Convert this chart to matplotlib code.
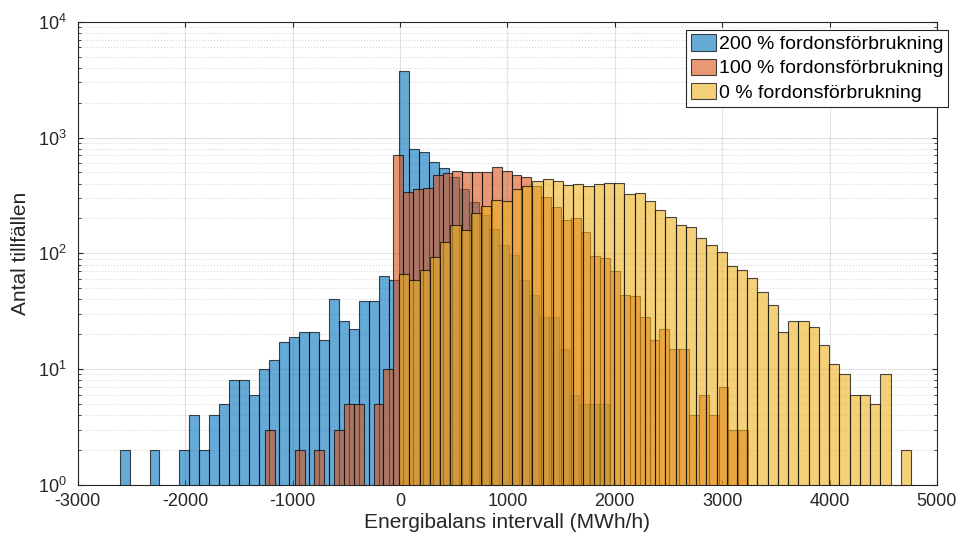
import matplotlib.pyplot as plt
import numpy as np

plt.rcParams['font.family'] = ['Liberation Sans', 'DejaVu Sans']
plt.rcParams['axes.unicode_minus'] = False

# bin layout (MWh/h)
blue_start, blue_width = -2611, 93.0
orange_start, orange_width = -1256, 91.8
yellow_start, yellow_width = -6.5, 95.3

# counts per bin
blue_counts = [2, 0, 0, 2, 0, 0, 2, 4, 2, 4, 5, 8, 8, 6, 10, 12, 17, 19, 21, 21,
               18, 40, 26, 22, 39, 39, 64, 59, 3773, 794, 743, 609, 545, 455, 359,
               275, 215, 162, 118, 97, 59, 44, 28, 28, 15, 6, 5, 5, 5]
orange_counts = [3, 0, 0, 2, 0, 2, 0, 3, 5, 5, 0, 5, 10, 710, 338, 359, 366, 470,
                 493, 509, 502, 502, 502, 556, 509, 478, 458, 378, 306, 251, 194,
                 201, 153, 94, 91, 70, 44, 43, 28, 18, 22, 15, 15, 4, 6, 4, 7, 3, 3]
yellow_counts = [66, 59, 72, 93, 125, 176, 158, 222, 256, 288, 282, 359, 381, 421,
                 438, 423, 391, 398, 383, 398, 404, 404, 326, 335, 282, 238, 206,
                 175, 168, 135, 118, 103, 77, 72, 61, 46, 36, 21, 26, 26, 23, 16,
                 11, 9, 6, 6, 5, 9, 0, 2]

labels = ['200 % fordonsförbrukning', '100 % fordonsförbrukning', '0 % fordonsförbrukning']
colors = [(0, 0.447, 0.741), (0.85, 0.325, 0.098), (0.929, 0.694, 0.125)]

fig = plt.figure(figsize=(9.6, 5.43), dpi=100)
ax = fig.add_axes([0.081, 0.107, 0.895, 0.853])

series = [(blue_start, blue_width, blue_counts),
          (orange_start, orange_width, orange_counts),
          (yellow_start, yellow_width, yellow_counts)]

for (start, width, counts), col, lab in zip(series, colors, labels):
    counts = np.array(counts, dtype=float)
    left = start + width * np.arange(len(counts))
    keep = counts > 0
    ax.bar(left[keep], counts[keep], width=width, align='edge',
           facecolor=col + (0.6,), edgecolor=(0, 0, 0, 0.7), linewidth=0.8,
           label=lab)

ax.set_yscale('log')
ax.set_xlim(-3000, 5000)
ax.set_ylim(1, 1e4)
ax.set_xticks(np.arange(-3000, 5001, 1000))

ax.grid(True, which='major', color=(0.15, 0.15, 0.15), alpha=0.13, linewidth=0.8)
ax.grid(True, which='minor', axis='y', color=(0.15, 0.15, 0.15), alpha=0.18,
        linestyle=':', linewidth=0.8)
ax.set_axisbelow(True)

dark = (0.15, 0.15, 0.15)
for sp in ax.spines.values():
    sp.set_color(dark)
    sp.set_linewidth(0.8)
ax.tick_params(which='both', direction='in', colors=dark,
               labelsize=13, top=True, right=True)
ax.tick_params(axis='x', which='major', pad=6)
ax.tick_params(axis='y', which='major', pad=8)
ax.tick_params(axis='x', which='minor', bottom=False, top=False)

ax.set_xlabel('Energibalans intervall (MWh/h)', fontsize=15, color=dark, labelpad=2)
ax.set_ylabel('Antal tillfällen', fontsize=15, color=dark, labelpad=6)

leg = ax.legend(loc='upper right', fontsize=14, fancybox=False, framealpha=1,
                edgecolor=dark, handlelength=1.3, handleheight=0.9,
                handletextpad=0.15, borderpad=0.25, labelspacing=0.28,
                borderaxespad=0, bbox_to_anchor=(1.013, 0.983))
leg.get_frame().set_linewidth(0.8)

fig.savefig('out.png', dpi=100)
